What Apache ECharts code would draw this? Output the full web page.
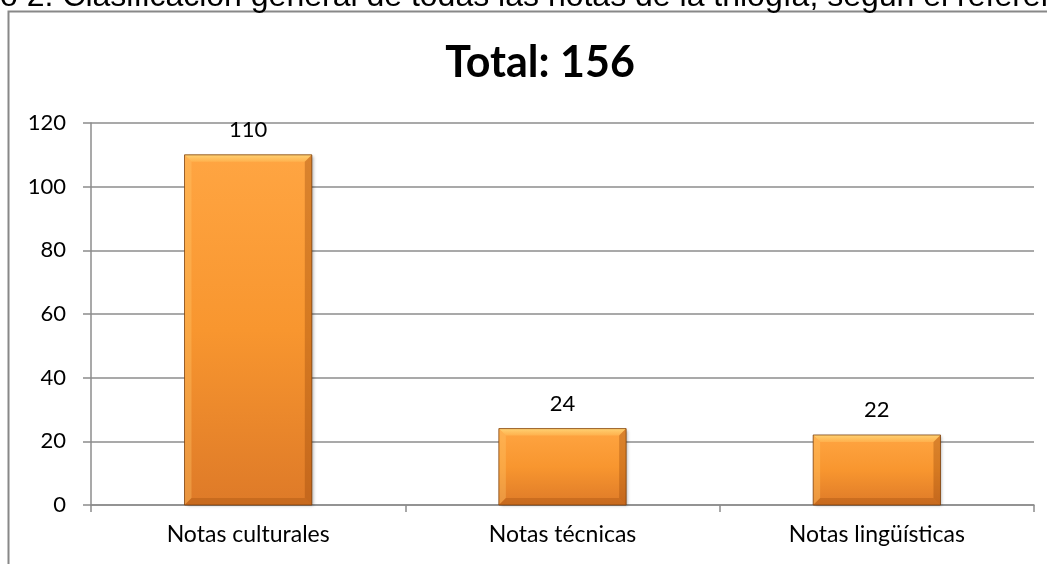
<!DOCTYPE html>
<html>
<head>
<meta charset="utf-8">
<script src="https://cdn.jsdelivr.net/npm/echarts@6/dist/echarts.min.js"></script>
<style>
html,body{margin:0;padding:0;background:#fff;}
#chart{width:1047px;height:564px;}
</style>
</head>
<body>
<div id="chart"></div>
<script>
var categories = ['Notas culturales', 'Notas técnicas', 'Notas lingüísticas'];
var values = [110, 24, 22];
var yTicks = [0, 20, 40, 60, 80, 100, 120];
var chartTitle = 'Total: 156';
var captionText = 'o 2. Clasificación general de todas las notas de la trilogía, según el referente';

var BAR_RATIO = 0.405;
var chart = echarts.init(document.getElementById('chart'), null, {renderer: 'canvas'});
var grey = '#8c8c8c';

function bevelItem(params, api) {
  var idx = api.value(0);
  var top = api.coord([idx, api.value(1)]);
  var base = api.coord([idx, 0]);
  var bw = api.size([1, 0])[0] * BAR_RATIO;
  var x0 = top[0] - bw / 2, x1 = top[0] + bw / 2;
  var y0 = top[1], y1 = base[1];
  var b = Math.min(7, (y1 - y0) / 3);
  return {
    type: 'group',
    silent: true,
    children: [
      {type: 'polygon', shape: {points: [[x0, y0], [x1, y0], [x1 - b, y0 + b], [x0 + b, y0 + b]]},
        style: {fill: new echarts.graphic.LinearGradient(0, 0, 0, 1, [{offset: 0, color: 'rgba(255,214,120,0.95)'}, {offset: 1, color: 'rgba(255,190,90,0.55)'}])}},
      {type: 'polygon', shape: {points: [[x0, y0], [x0 + b, y0 + b], [x0 + b, y1 - b], [x0, y1]]},
        style: {fill: 'rgba(255,200,110,0.35)'}},
      {type: 'polygon', shape: {points: [[x1, y0], [x1, y1], [x1 - b, y1 - b], [x1 - b, y0 + b]]},
        style: {fill: 'rgba(150,70,10,0.35)'}},
      {type: 'polygon', shape: {points: [[x0, y1], [x0 + b, y1 - b], [x1 - b, y1 - b], [x1, y1]]},
        style: {fill: 'rgba(150,70,10,0.3)'}},
      {type: 'rect', shape: {x: x0, y: y0, width: bw, height: y1 - y0},
        style: {fill: 'none', stroke: 'rgba(120,60,10,0.75)', lineWidth: 1}}
    ]
  };
}

chart.setOption({
  animation: false,
  backgroundColor: '#ffffff',
  title: {
    text: chartTitle,
    left: 535,
    textAlign: 'center',
    top: 37,
    textStyle: {fontFamily: 'Lato', fontWeight: 'bold', fontSize: 43, color: '#000'}
  },
  graphic: [
    {
      type: 'rect',
      shape: {x: 8.5, y: 11.5, width: 1100, height: 600},
      style: {fill: 'none', stroke: '#888888', lineWidth: 2},
      silent: true
    },
    {
      type: 'text',
      x: 0, y: -3,
      style: {text: captionText, font: '32px "Liberation Sans"', fill: '#000', verticalAlign: 'middle', align: 'left'},
      silent: true
    }
  ],
  grid: {left: 91, right: 13, top: 123, bottom: 59, containLabel: false},
  xAxis: {
    type: 'category',
    data: categories,
    axisLine: {lineStyle: {color: grey, width: 1.5}},
    axisTick: {show: true, length: 7, lineStyle: {color: grey, width: 1.5}},
    axisLabel: {fontFamily: 'Lato', fontSize: 23, color: '#000', margin: 18}
  },
  yAxis: {
    type: 'value',
    min: yTicks[0],
    max: yTicks[yTicks.length - 1],
    interval: yTicks[1] - yTicks[0],
    axisLine: {show: true, lineStyle: {color: grey, width: 1.5}},
    axisTick: {show: true, length: 8, lineStyle: {color: grey, width: 1.5}},
    axisLabel: {fontFamily: 'Lato', fontSize: 22, color: '#000', margin: 25},
    splitLine: {lineStyle: {color: grey, width: 1.5}}
  },
  series: [{
    type: 'bar',
    data: values,
    barWidth: (BAR_RATIO * 100) + '%',
    itemStyle: {
      color: new echarts.graphic.LinearGradient(0, 0, 0, 1, [
        {offset: 0, color: '#ffa542'},
        {offset: 0.5, color: '#f8962f'},
        {offset: 1, color: '#de7a28'}
      ]),
      shadowColor: 'rgba(0,0,0,0.3)',
      shadowBlur: 3,
      shadowOffsetX: 2,
      shadowOffsetY: 1
    },
    label: {
      show: true,
      position: 'top',
      distance: 14,
      fontFamily: 'Lato',
      fontSize: 22,
      color: '#000'
    }
  }, {
    type: 'custom',
    renderItem: bevelItem,
    data: values.map(function (v, i) { return [i, v]; }),
    encode: {x: 0, y: 1},
    z: 5,
    silent: true
  }]
});
</script>
</body>
</html>
